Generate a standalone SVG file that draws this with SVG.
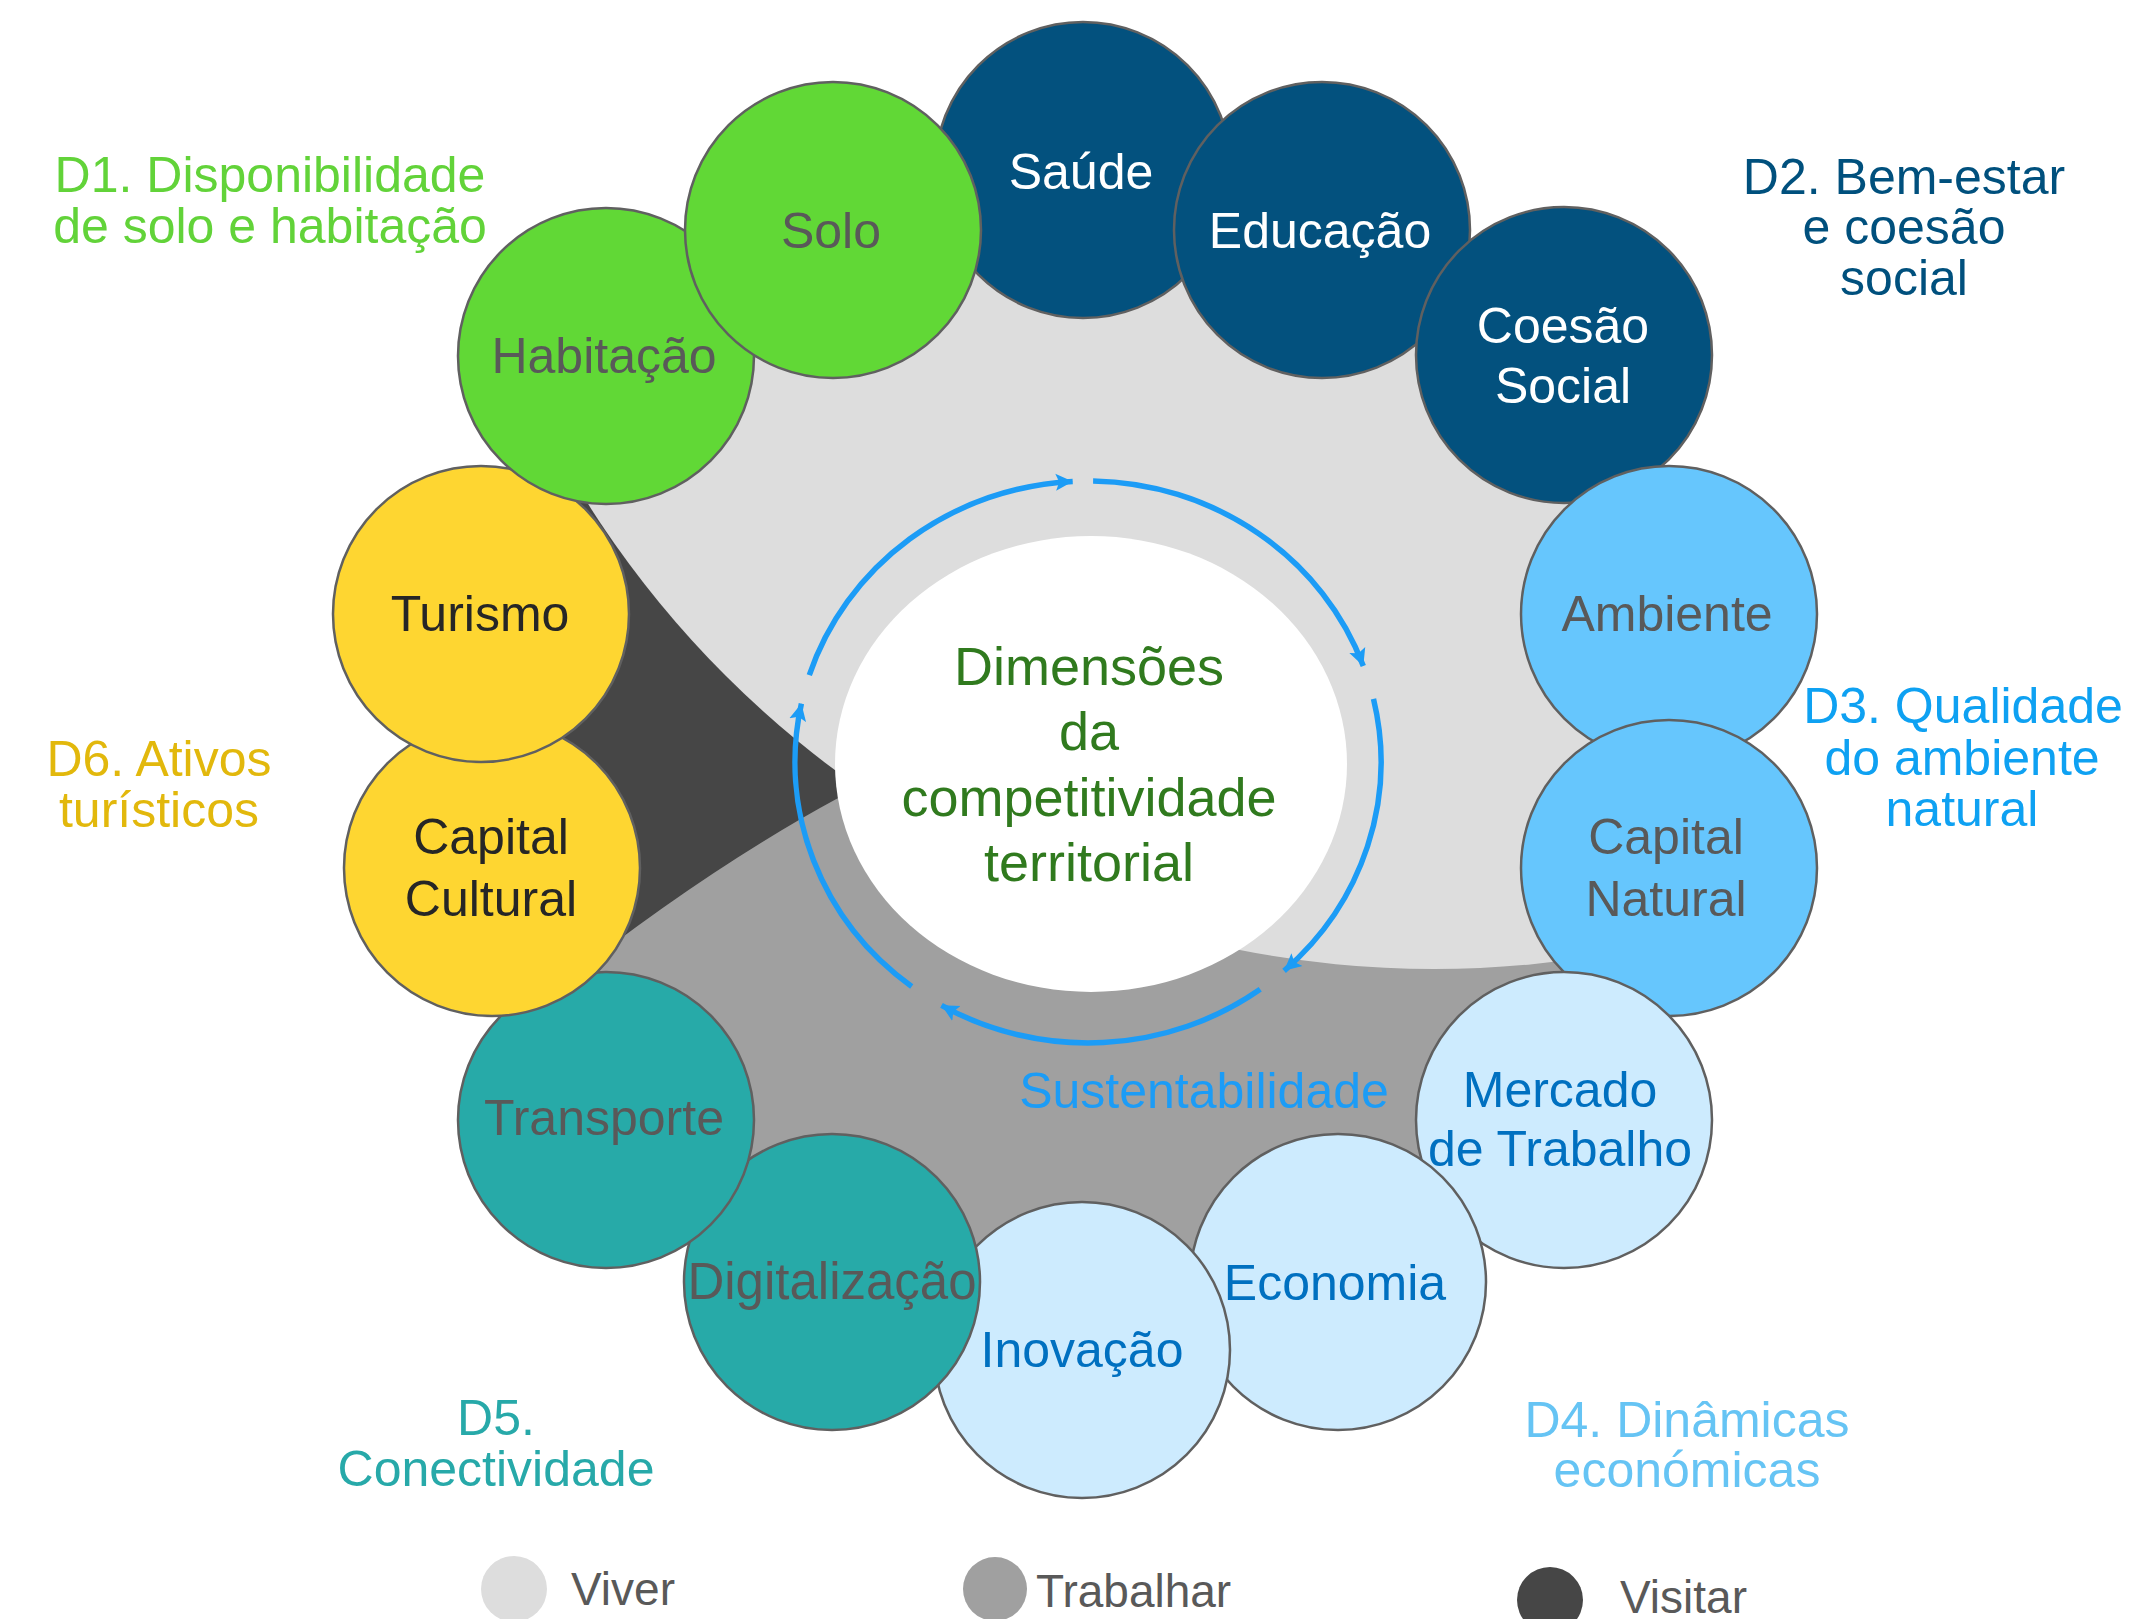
<svg xmlns="http://www.w3.org/2000/svg" width="2131" height="1619" viewBox="0 0 2131 1619">
<style>
text{font-family:"Liberation Sans",Arial,sans-serif;}
.node circle{stroke:#606060;stroke-width:2.5;}
.nl{font-size:50px;text-anchor:middle;}
.dl{font-size:50px;text-anchor:middle;}
.arc{fill:none;stroke:#1C9CF6;stroke-width:5.5;marker-end:url(#ah);}
.leg{font-size:46px;fill:#595959;}
</style>
<defs>
<clipPath id="ring"><ellipse cx="1085" cy="752" rx="610" ry="600"/></clipPath>
<marker id="ah" markerUnits="userSpaceOnUse" markerWidth="20" markerHeight="20" refX="17" refY="10" orient="auto">
<path d="M0,1.5 L17,10 L0,18.5 L3.5,10 z" fill="#1C9CF6"/>
</marker>
</defs>
<rect width="2131" height="1619" fill="#ffffff"/>
<g id="background" clip-path="url(#ring)">
<rect x="400" y="100" width="1400" height="1400" fill="#464646"/>
<path d="M560,985 Q705,870 840,797 L1100,700 L1900,560 L1900,1500 L300,1500 L300,1060 Z" fill="#A0A0A0"/>
<circle cx="1434" cy="-33" r="1002" fill="#DDDDDD"/>
</g>
<g id="center">
<ellipse cx="1091" cy="764" rx="256" ry="228" fill="#ffffff"/>
<text x="1089" y="685" font-size="54" text-anchor="middle" fill="#307A1E">Dimensões</text>
<text x="1089" y="750" font-size="54" text-anchor="middle" fill="#307A1E">da</text>
<text x="1089" y="816" font-size="54" text-anchor="middle" fill="#307A1E">competitividade</text>
<text x="1089" y="881" font-size="54" text-anchor="middle" fill="#307A1E">territorial</text>
</g>
<g id="connectors">
<path class="arc" d="M809.3,675.2 A293,281 0 0 1 1072.7,481.4"/>
<path class="arc" d="M1093.1,481 A293,281 0 0 1 1363.3,665.9"/>
<path class="arc" d="M1373.5,698.8 A293,281 0 0 1 1284.1,970.8"/>
<path class="arc" d="M1260.2,989.3 A293,281 0 0 1 941.5,1005.3"/>
<path class="arc" d="M911.7,986.4 A293,281 0 0 1 801.4,703.6"/>
</g>
<g id="sustentabilidade"><text x="1204" y="1108" class="dl" fill="#1C9CF6">Sustentabilidade</text></g>
<g id="n-saude" class="node"><circle cx="1083" cy="170" r="148" fill="#03517E"/><text x="1081" y="189" class="nl" fill="#ffffff">Saúde</text></g>
<g id="n-educacao" class="node"><circle cx="1322" cy="230" r="148" fill="#03517E"/><text x="1320" y="248" class="nl" fill="#ffffff">Educação</text></g>
<g id="n-coesao" class="node"><circle cx="1564" cy="355" r="148" fill="#03517E"/><text x="1563" y="343" class="nl" fill="#ffffff">Coesão</text><text x="1563" y="403" class="nl" fill="#ffffff">Social</text></g>
<g id="n-ambiente" class="node"><circle cx="1669" cy="614" r="148" fill="#66C6FD"/><text x="1667" y="631" class="nl" fill="#595959">Ambiente</text></g>
<g id="n-capnatural" class="node"><circle cx="1669" cy="868" r="148" fill="#66C6FD"/><text x="1666" y="854" class="nl" fill="#595959">Capital</text><text x="1666" y="916" class="nl" fill="#595959">Natural</text></g>
<g id="n-mercado" class="node"><circle cx="1564" cy="1120" r="148" fill="#CDEBFE"/><text x="1560" y="1107" class="nl" fill="#0070C0">Mercado</text><text x="1560" y="1166" class="nl" fill="#0070C0">de Trabalho</text></g>
<g id="n-economia" class="node"><circle cx="1338" cy="1282" r="148" fill="#CDEBFE"/><text x="1335" y="1300" class="nl" fill="#0070C0">Economia</text></g>
<g id="n-inovacao" class="node"><circle cx="1082" cy="1350" r="148" fill="#CDEBFE"/><text x="1082" y="1367" class="nl" fill="#0070C0">Inovação</text></g>
<g id="n-digitalizacao" class="node"><circle cx="832" cy="1282" r="148" fill="#27AAA8"/><text x="832" y="1299" font-size="51" text-anchor="middle" fill="#595959">Digitalização</text></g>
<g id="n-transporte" class="node"><circle cx="606" cy="1120" r="148" fill="#27AAA8"/><text x="604" y="1135" class="nl" fill="#595959">Transporte</text></g>
<g id="n-capcultural" class="node"><circle cx="492" cy="868" r="148" fill="#FED631"/><text x="491" y="854" class="nl" fill="#262626">Capital</text><text x="491" y="916" class="nl" fill="#262626">Cultural</text></g>
<g id="n-turismo" class="node"><circle cx="481" cy="614" r="148" fill="#FED631"/><text x="480" y="631" class="nl" fill="#262626">Turismo</text></g>
<g id="n-habitacao" class="node"><circle cx="606" cy="356" r="148" fill="#61D836"/><text x="604" y="373" class="nl" fill="#595959">Habitação</text></g>
<g id="n-solo" class="node"><circle cx="833" cy="230" r="148" fill="#61D836"/><text x="831" y="248" class="nl" fill="#595959">Solo</text></g>
<g id="d1"><text x="270" y="192" class="dl" fill="#62D339">D1. Disponibilidade</text><text x="270" y="243" class="dl" fill="#62D339">de solo e habitação</text></g>
<g id="d2"><text x="1904" y="194" class="dl" fill="#00507D">D2. Bem-estar</text><text x="1904" y="244" class="dl" fill="#00507D">e coesão</text><text x="1904" y="295" class="dl" fill="#00507D">social</text></g>
<g id="d3"><text x="1963" y="723" class="dl" fill="#0EA1F2">D3. Qualidade</text><text x="1962" y="775" class="dl" fill="#0EA1F2">do ambiente</text><text x="1962" y="826" class="dl" fill="#0EA1F2">natural</text></g>
<g id="d4"><text x="1687" y="1437" class="dl" fill="#66C4F4">D4. Dinâmicas</text><text x="1687" y="1487" class="dl" fill="#66C4F4">económicas</text></g>
<g id="d5"><text x="496" y="1435" class="dl" fill="#27A9A9">D5.</text><text x="496" y="1486" class="dl" fill="#27A9A9">Conectividade</text></g>
<g id="d6"><text x="159" y="776" class="dl" fill="#E2B80C">D6. Ativos</text><text x="159" y="827" class="dl" fill="#E2B80C">turísticos</text></g>
<g id="legend">
<circle cx="514" cy="1589" r="33" fill="#DDDDDD"/><text x="571" y="1605" class="leg">Viver</text>
<circle cx="995" cy="1589" r="32" fill="#A0A0A0"/><text x="1036" y="1607" class="leg">Trabalhar</text>
<circle cx="1550" cy="1600" r="33" fill="#464646"/><text x="1620" y="1613" class="leg">Visitar</text>
</g>
</svg>
